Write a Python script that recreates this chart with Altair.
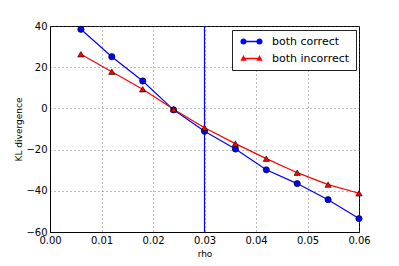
import altair as alt
import pandas as pd

rho = [0.006, 0.012, 0.018, 0.024, 0.030, 0.036, 0.042, 0.048, 0.054, 0.060]
both_correct = [38.4, 25.1, 13.3, -0.7, -11.1, -19.7, -29.8, -36.5, -44.3, -53.5]
both_incorrect = [26.3, 17.8, 9.3, -0.4, -9.4, -17.1, -24.4, -31.2, -37.0, -41.2]
series = ["both correct", "both incorrect"]
colors = ["#0000ff", "#ff0000"]
vline_x = [0.03]

rows = []
for r, a, b in zip(rho, both_correct, both_incorrect):
    rows.append({"rho": r, "kl": a, "series": series[0]})
    rows.append({"rho": r, "kl": b, "series": series[1]})
df = pd.DataFrame(rows)


def circle(cx, r):
    return f"M{cx - r},0 A{r},{r} 0 1,1 {cx + r},0 A{r},{r} 0 1,1 {cx - r},0 Z"


def tri(cx, h):
    return f"M{cx},{-h * 1.1} L{cx + h},{h * 0.75} L{cx - h},{h * 0.75} Z"


seg = "M-1.6,-0.13 L1.6,-0.13 L1.6,0.13 L-1.6,0.13 Z"
legend_shapes = [circle(-1.6, 0.62) + " " + seg + " " + circle(1.6, 0.62),
                 tri(-1.6, 0.62) + " " + seg + " " + tri(1.6, 0.62)]

font = "DejaVu Sans"
x = alt.X("rho:Q", title="rho",
          scale=alt.Scale(domain=[0, 0.06], nice=False, zero=False, padding=0),
          axis=alt.Axis(values=[0, 0.01, 0.02, 0.03, 0.04, 0.05, 0.06], format=".2f",
                        labelFlush=False))
y = alt.Y("kl:Q", title="KL divergence",
          scale=alt.Scale(domain=[-60, 40], nice=False, padding=0),
          axis=alt.Axis(values=[-60, -40, -20, 0, 20, 40], labelFlush=False))

color_nl = alt.Color("series:N", scale=alt.Scale(domain=series, range=colors), legend=None)
shape_nl = alt.Shape("series:N", scale=alt.Scale(domain=series, range=["circle", "triangle-up"]),
                     legend=None)

legend = alt.Legend(title=None, orient="none", legendX=182, legendY=4,
                    strokeColor="#222222", fillColor="white", padding=6,
                    labelFontSize=11, labelFont=font, labelColor="black",
                    symbolSize=100, symbolStrokeWidth=0, symbolOffset=8, labelOffset=15,
                    rowPadding=5, cornerRadius=0)
color_leg = alt.Color("series:N", scale=alt.Scale(domain=series, range=colors), legend=legend)
shape_leg = alt.Shape("series:N", scale=alt.Scale(domain=series, range=legend_shapes), legend=legend)

lines = alt.Chart(df).mark_line(strokeWidth=1.2).encode(
    x=x, y=y, color=color_nl, detail="series:N")
points = alt.Chart(df).mark_point(filled=True, size=40, opacity=1, stroke="black",
                                  strokeWidth=0.6).encode(
    x=x, y=y, color=color_nl, shape=shape_nl)
vline = alt.Chart(pd.DataFrame({"x": vline_x})).mark_rule(color="#0000ff", strokeWidth=1.2).encode(
    x="x:Q")
legend_layer = alt.Chart(df).transform_filter("false").mark_point(filled=True, opacity=1).encode(
    x=x, y=y, color=color_leg, shape=shape_leg)

chart = alt.layer(vline, lines, points, legend_layer).resolve_scale(
    color="independent", shape="independent"
).properties(
    width=309, height=206,
    autosize=alt.AutoSizeParams(type="none"),
    padding={"left": 42, "top": 18, "right": 32, "bottom": 34},
).configure_view(stroke="black", strokeWidth=1).configure_axis(
    grid=True, gridColor="#555555", gridDash=[1, 3], gridWidth=0.8, gridOpacity=1,
    domainColor="black", ticks=False, labelFont=font, titleFont=font,
    labelFontSize=10, titleFontSize=9, titleFontWeight="normal", labelColor="black",
    titleColor="black", labelPadding=3,
).configure_axisX(titlePadding=4).configure_axisY(titlePadding=2)

chart.save("out.html", embed_options={"renderer": "svg", "actions": False})
